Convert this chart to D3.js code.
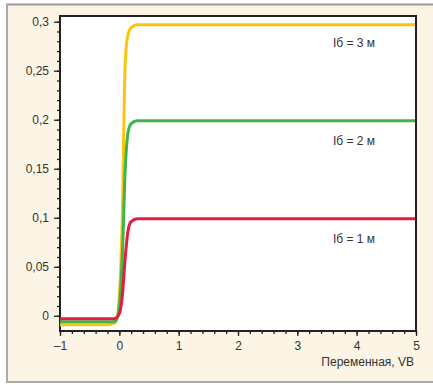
<!DOCTYPE html>
<html>
  <head>
    <meta charset="utf-8">
    <script src="https://d3js.org/d3.v7.min.js"></script>
    <style>
      body { margin: 0px; background: #fff; }
      .tick text {
        fill: #333;
        font-size: 12px;
        font-family: "Liberation Sans", Arial, sans-serif;
      }
      .label {
        fill: #333;
        font-size: 12px;
        font-family: "Liberation Sans", Arial, sans-serif;
      }
    </style>
  </head>
  <body>
    <svg width="433" height="385"></svg>
    <script>
      // values
      const xs = [-1, -0.2, -0.1, -0.05, 0, 0.05, 0.1, 0.15, 0.2, 0.3, 0.5, 1, 2, 3, 4, 5];
      const red =    [-0.003, -0.003, -0.003, -0.002, 0.002, 0.02, 0.06, 0.088, 0.096, 0.099, 0.099, 0.099, 0.099, 0.099, 0.099, 0.099];
      const green =  [-0.006, -0.006, -0.006, -0.004, 0.01, 0.06, 0.15, 0.188, 0.196, 0.199, 0.199, 0.199, 0.199, 0.199, 0.199, 0.199];
      const yellow = [-0.009, -0.009, -0.008, -0.005, 0.02, 0.1, 0.26, 0.288, 0.294, 0.297, 0.297, 0.297, 0.297, 0.297, 0.297, 0.297];
      const seriesNames = ['Iб = 3 м', 'Iб = 2 м', 'Iб = 1 м'];
      const xTicks = [-1, 0, 1, 2, 3, 4, 5];
      const yTicks = [0, 0.05, 0.1, 0.15, 0.2, 0.25, 0.3];
      const xLabel = 'Переменная, VB';

      const colors = ['#fcc30f', '#3cb54a', '#e41c3f'];
      const series = [yellow, green, red];

      const margin = { left: 60, top: 16, right: 17, bottom: 54 };
      const svg = d3.select('svg');
      const width = +svg.attr('width');
      const height = +svg.attr('height');
      const innerWidth = width - margin.left - margin.right;
      const innerHeight = height - margin.top - margin.bottom;

      // cream panel with grey frame
      svg.append('rect')
        .attr('x', 7).attr('y', 5).attr('width', width - 7).attr('height', 377)
        .attr('fill', '#fcf4e5');
      svg.append('line').attr('x1', 6).attr('x2', width).attr('y1', 4.5).attr('y2', 4.5)
        .attr('stroke', '#999').attr('stroke-width', 2);
      svg.append('line').attr('x1', 6).attr('x2', width).attr('y1', 382).attr('y2', 382)
        .attr('stroke', '#aaa').attr('stroke-width', 2);
      svg.append('line').attr('x1', 7).attr('x2', 7).attr('y1', 4).attr('y2', 383)
        .attr('stroke', '#aaa').attr('stroke-width', 2);

      const g = svg.append('g')
        .attr('transform', `translate(${margin.left},${margin.top})`);

      const xScale = d3.scaleLinear().domain([-1, 5]).range([0, innerWidth]);
      const yScale = d3.scaleLinear().domain([-0.0155, 0.3058]).range([innerHeight, 0]);

      g.append('rect')
        .attr('width', innerWidth).attr('height', innerHeight)
        .attr('fill', '#fff');

      // minor ticks
      g.append('g')
        .attr('transform', `translate(0,${innerHeight})`)
        .call(d3.axisBottom(xScale).tickValues(d3.range(-1, 5.01, 0.2)).tickSize(3))
        .call(a => a.select('.domain').remove())
        .call(a => a.selectAll('text').remove())
        .selectAll('line').attr('stroke', '#222').attr('stroke-width', 1.3);
      g.append('g')
        .call(d3.axisLeft(yScale).tickValues(d3.range(0, 0.301, 0.01)).tickSize(3))
        .call(a => a.select('.domain').remove())
        .call(a => a.selectAll('text').remove())
        .selectAll('line').attr('stroke', '#222').attr('stroke-width', 1.3);

      // major ticks
      const fmt = d => d < 0 ? '–' + Math.abs(d) : String(d).replace('.', ',');
      const xAxisG = g.append('g')
        .attr('transform', `translate(0,${innerHeight})`)
        .call(d3.axisBottom(xScale).tickValues(xTicks).tickSize(5).tickPadding(5).tickFormat(fmt));
      xAxisG.select('.domain').remove();
      xAxisG.selectAll('line').attr('stroke', '#222').attr('stroke-width', 1.3);

      const yAxisG = g.append('g')
        .call(d3.axisLeft(yScale).tickValues(yTicks).tickSize(6).tickPadding(5).tickFormat(fmt));
      yAxisG.select('.domain').remove();
      yAxisG.selectAll('line').attr('stroke', '#222').attr('stroke-width', 1.3);

      // curves
      const line = d3.line()
        .x((d, i) => xScale(xs[i]))
        .y(d => yScale(d))
        .curve(d3.curveMonotoneX);

      g.append('rect')
        .attr('width', innerWidth).attr('height', innerHeight)
        .attr('fill', 'none').attr('stroke', '#222').attr('stroke-width', 2);

      svg.append('clipPath').attr('id', 'clip')
        .append('rect').attr('width', innerWidth - 1).attr('height', innerHeight - 1);

      series.forEach((s, i) => {
        g.append('path')
          .datum(s)
          .attr('clip-path', 'url(#clip)')
          .attr('fill', 'none')
          .attr('stroke', colors[i])
          .attr('stroke-width', 3)
          .attr('d', line);
      });

      // series labels
      [0.3, 0.2, 0.1].forEach((v, i) => {
        g.append('text')
          .attr('class', 'label')
          .attr('x', xScale(3.6))
          .attr('y', yScale(v) + 25)
          .text(seriesNames[i]);
      });

      g.append('text')
        .attr('class', 'label')
        .attr('x', innerWidth - 2)
        .attr('y', innerHeight + 35)
        .style('text-anchor', 'end')
        .text(xLabel);
    </script>
  </body>
</html>
